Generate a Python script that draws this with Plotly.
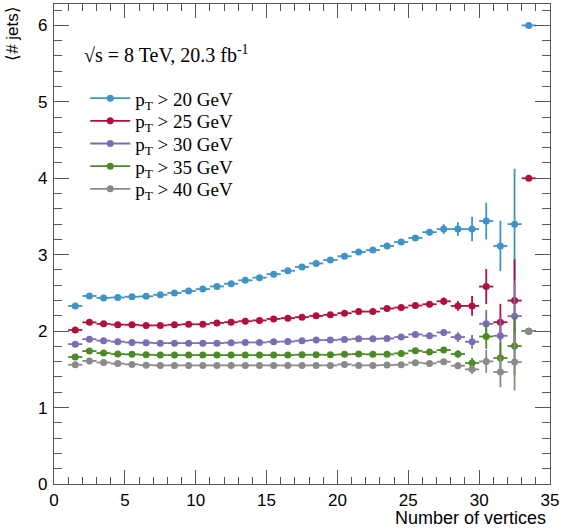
import plotly.graph_objects as go

# Bin centres of the number-of-vertices histogram
n_vertices = [1.5, 2.5, 3.5, 4.5, 5.5, 6.5, 7.5, 8.5, 9.5, 10.5, 11.5, 12.5, 13.5,
              14.5, 15.5, 16.5, 17.5, 18.5, 19.5, 20.5, 21.5, 22.5, 23.5, 24.5, 25.5,
              26.5, 27.5, 28.5, 29.5, 30.5, 31.5, 32.5, 33.5]
bin_half_width = 0.5

# Mean jet multiplicity per jet-pT threshold
jets_pt20 = [2.33, 2.46, 2.435, 2.44, 2.45, 2.455, 2.475, 2.50, 2.525, 2.55, 2.585, 2.62,
             2.665, 2.70, 2.745, 2.79, 2.84, 2.885, 2.93, 2.98, 3.035, 3.06, 3.115, 3.165,
             3.22, 3.295, 3.335, 3.335, 3.335, 3.44, 3.115, 3.40, 6.0]
err_pt20 = [0.02, 0.01, 0.01, 0.01, 0.01, 0.01, 0.01, 0.01, 0.01, 0.01, 0.01, 0.01,
            0.01, 0.01, 0.012, 0.013, 0.015, 0.016, 0.018, 0.02, 0.022, 0.025, 0.028,
            0.032, 0.035, 0.045, 0.065, 0.09, 0.16, 0.24, 0.33, 0.725, 0.0]

jets_pt25 = [2.015, 2.115, 2.095, 2.085, 2.083, 2.075, 2.075, 2.083, 2.09, 2.09, 2.108,
             2.117, 2.13, 2.14, 2.16, 2.17, 2.183, 2.20, 2.213, 2.235, 2.256, 2.256,
             2.296, 2.309, 2.335, 2.352, 2.39, 2.33, 2.33, 2.583, 2.117, 2.40, 4.0]
err_pt25 = [0.015, 0.008, 0.008, 0.008, 0.008, 0.008, 0.008, 0.008, 0.008, 0.008, 0.008,
            0.008, 0.008, 0.008, 0.01, 0.01, 0.012, 0.013, 0.015, 0.016, 0.018, 0.02,
            0.022, 0.025, 0.03, 0.035, 0.05, 0.065, 0.13, 0.23, 0.24, 0.54, 0.0]

jets_pt30 = [1.83, 1.895, 1.875, 1.862, 1.852, 1.848, 1.843, 1.843, 1.843, 1.843, 1.843,
             1.848, 1.852, 1.852, 1.861, 1.864, 1.874, 1.883, 1.883, 1.891, 1.90, 1.90,
             1.904, 1.922, 1.957, 1.939, 1.983, 1.922, 1.861, 2.096, 1.939, 2.196, 2.0]
err_pt30 = [0.012, 0.007, 0.007, 0.007, 0.007, 0.007, 0.007, 0.007, 0.007, 0.007, 0.007,
            0.007, 0.007, 0.007, 0.008, 0.009, 0.01, 0.011, 0.012, 0.014, 0.015, 0.017,
            0.019, 0.022, 0.026, 0.03, 0.04, 0.065, 0.09, 0.18, 0.25, 0.45, 0.0]

jets_pt35 = [1.661, 1.739, 1.713, 1.70, 1.696, 1.691, 1.687, 1.687, 1.687, 1.687, 1.687,
             1.687, 1.687, 1.687, 1.687, 1.687, 1.691, 1.691, 1.691, 1.696, 1.70, 1.696,
             1.696, 1.709, 1.743, 1.726, 1.752, 1.70, 1.583, 1.93, 1.648, 1.804, 2.0]
err_pt35 = [0.01, 0.006, 0.006, 0.006, 0.006, 0.006, 0.006, 0.006, 0.006, 0.006, 0.006,
            0.006, 0.006, 0.006, 0.007, 0.008, 0.009, 0.01, 0.011, 0.012, 0.013, 0.015,
            0.017, 0.02, 0.023, 0.027, 0.035, 0.05, 0.065, 0.16, 0.2, 0.38, 0.0]

jets_pt40 = [1.56, 1.61, 1.59, 1.575, 1.565, 1.555, 1.552, 1.552, 1.552, 1.552, 1.552,
             1.552, 1.552, 1.552, 1.552, 1.552, 1.552, 1.552, 1.552, 1.565, 1.552, 1.552,
             1.556, 1.56, 1.587, 1.578, 1.60, 1.548, 1.50, 1.604, 1.465, 1.595, 2.0]
err_pt40 = [0.01, 0.006, 0.006, 0.006, 0.006, 0.006, 0.006, 0.006, 0.006, 0.006, 0.006,
            0.006, 0.006, 0.006, 0.007, 0.008, 0.009, 0.01, 0.011, 0.012, 0.013, 0.015,
            0.017, 0.019, 0.022, 0.025, 0.03, 0.045, 0.06, 0.15, 0.2, 0.37, 0.0]

series_labels = ["p<sub>T</sub> > 20 GeV", "p<sub>T</sub> > 25 GeV", "p<sub>T</sub> > 30 GeV",
                 "p<sub>T</sub> > 35 GeV", "p<sub>T</sub> > 40 GeV"]
series_values = [jets_pt20, jets_pt25, jets_pt30, jets_pt35, jets_pt40]
series_errors = [err_pt20, err_pt25, err_pt30, err_pt35, err_pt40]
series_colors = ["#3f93c6", "#b0103a", "#7b6db3", "#4b8a25", "#8a8a8a"]

serif = "Liberation Serif, Times New Roman, serif"
sans = "Liberation Sans, Arial, Helvetica, sans-serif"

# Each legend entry sits in its own legend box so the row spacing can be set
legend_names = ["legend", "legend2", "legend3", "legend4", "legend5"]
legend_x = 0.063
legend_top = 0.843
legend_step = 0.0472

fig = go.Figure()

for label, vals, errs, col, lg in zip(series_labels, series_values, series_errors,
                                      series_colors, legend_names):
    fig.add_trace(go.Scatter(
        x=n_vertices, y=vals, mode="markers",
        marker=dict(color=col, size=7),
        error_x=dict(type="constant", value=bin_half_width, color=col, thickness=1.8, width=0),
        error_y=dict(type="data", array=errs, color=col, thickness=1.8, width=0),
        legendgroup=label, showlegend=False, hoverinfo="x+y",
    ))
    # legend key: marker with a line through it
    fig.add_trace(go.Scatter(
        x=[None], y=[None], mode="lines+markers", name=label,
        line=dict(color=col, width=1.8), marker=dict(color=col, size=7),
        legendgroup=label, showlegend=True, legend=lg,
    ))

axis_common = dict(
    showline=True, linecolor="#555555", linewidth=1.2, mirror="ticks",
    ticks="inside", tickcolor="#555555", tickwidth=1.2,
    showgrid=False, zeroline=False,
    tickfont=dict(family=sans, size=17, color="black"),
    ticklabeloverflow="allow",
)

fig.update_xaxes(range=[0, 35], dtick=5, tick0=0, ticklen=14,
                 minor=dict(dtick=1, ticklen=7, ticks="inside", tickcolor="#555555", tickwidth=1.2),
                 ticklabelstandoff=0, **axis_common)
fig.update_yaxes(range=[0, 6.28], dtick=1, tick0=0, ticklen=15,
                 minor=dict(dtick=0.2, ticklen=8, ticks="inside", tickcolor="#555555", tickwidth=1.2),
                 ticklabelstandoff=2, **axis_common)

fig.add_annotation(
    text="√s = 8 TeV, 20.3 fb<sup>-1</sup>", x=2.0, y=5.62, xref="x", yref="y",
    xanchor="left", yanchor="middle", showarrow=False,
    font=dict(family=serif, size=20, color="black"),
)
fig.add_annotation(
    text="⟨# jets⟩", x=-0.084, y=1.0, xref="paper", yref="paper",
    xanchor="center", yanchor="top", textangle=-90, showarrow=False,
    font=dict(family=sans, size=17, color="black"),
)
fig.add_annotation(
    text="Number of vertices", x=0.995, y=-0.071, xref="paper", yref="paper",
    xanchor="right", yanchor="middle", showarrow=False,
    font=dict(family=sans, size=18, color="black"),
)

legend_style = dict(xanchor="left", yanchor="top",
                    font=dict(family=serif, size=19, color="black"),
                    bgcolor="rgba(0,0,0,0)", itemwidth=40)
layout_legends = {}
for i, lg in enumerate(legend_names):
    layout_legends[lg] = dict(x=legend_x, y=legend_top - i * legend_step, **legend_style)

fig.update_layout(
    width=562, height=531,
    margin=dict(l=54, r=8, t=3, b=47),
    paper_bgcolor="white", plot_bgcolor="white",
    showlegend=True,
    **layout_legends,
)

fig.write_html("out.html")
